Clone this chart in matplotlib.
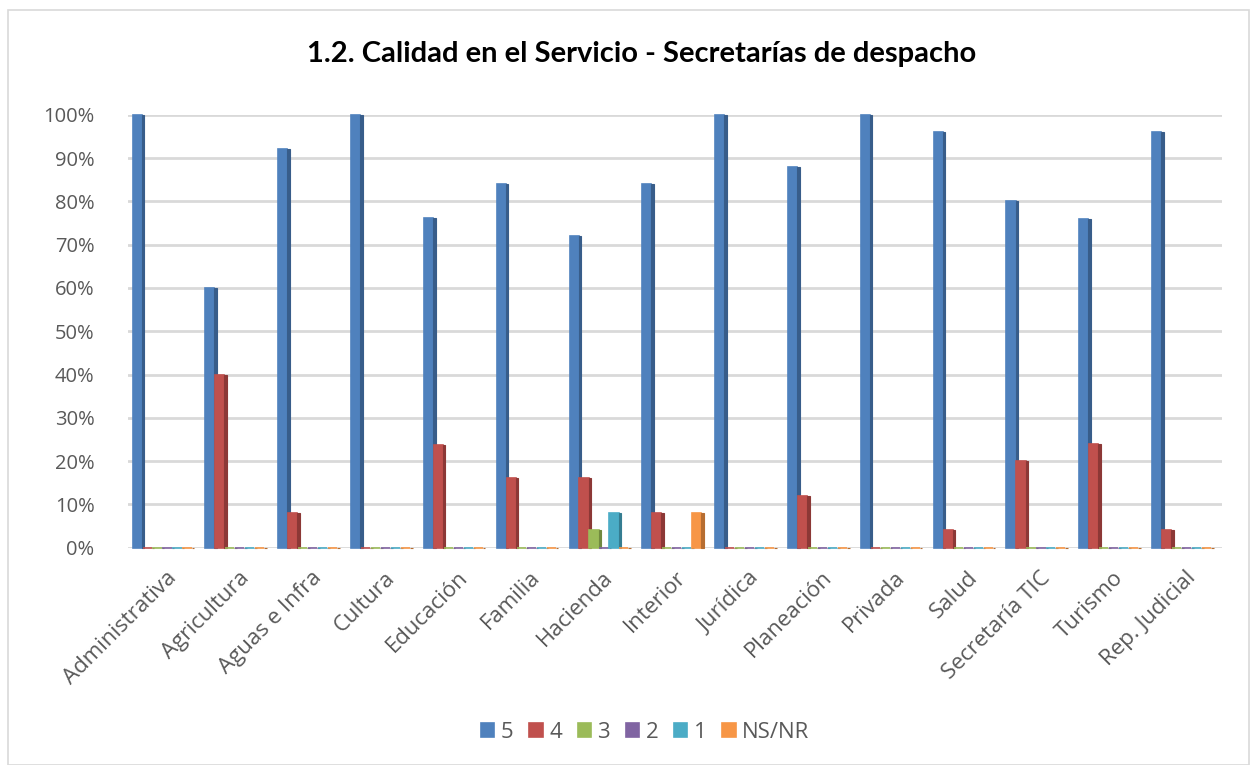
#%%imports
import matplotlib
matplotlib.use("Agg")
import matplotlib.pyplot as plt
from matplotlib.patches import Rectangle
import numpy as np

plt.rcParams["font.family"] = ["Open Sans", "DejaVu Sans"]

#%%data
categories = ["Administrativa", "Agricultura", "Aguas e Infra", "Cultura", "Educación",
              "Familia", "Hacienda", "Interior", "Jurídica", "Planeación", "Privada",
              "Salud", "Secretaría TIC", "Turismo", "Rep. Judicial"]
series_names = ["5", "4", "3", "2", "1", "NS/NR"]

s5 = [100, 60, 92, 100, 76.19, 84, 72, 84, 100, 88, 100, 96, 80, 76, 96]
s4 = [0, 40, 8, 0, 23.81, 16, 16, 8, 0, 12, 0, 4, 20, 24, 4]
s3 = [0, 0, 0, 0, 0, 0, 4, 0, 0, 0, 0, 0, 0, 0, 0]
s2 = [0, 0, 0, 0, 0, 0, 0, 0, 0, 0, 0, 0, 0, 0, 0]
s1 = [0, 0, 0, 0, 0, 0, 8, 0, 0, 0, 0, 0, 0, 0, 0]
nsnr = [0, 0, 0, 0, 0, 0, 0, 8, 0, 0, 0, 0, 0, 0, 0]

colors = ["#4F81BD", "#C0504D", "#9BBB59", "#8064A2", "#4BACC6", "#F79646"]
dark = ["#385D8A", "#8C3836", "#71893F", "#5C4776", "#357D91", "#B66D31"]

#%%plot
fig = plt.figure(figsize=(12.53, 7.65), dpi=100)
fig.patches.append(Rectangle((0.0065, 0.0), 0.99, 0.987, transform=fig.transFigure,
                             fill=False, edgecolor="#d9d9d9", linewidth=1.2))

ax = fig.add_axes([0.102, 0.284, 0.873, 0.566])

x = np.arange(len(categories))
w = 0.125
for i, (vals, c, d, name) in enumerate(zip([s5, s4, s3, s2, s1, nsnr], colors, dark, series_names)):
    pos = x - 0.5 + 0.045 + i * 0.137
    ax.bar(pos, vals, width=w, color=c, edgecolor=c, linewidth=1.2, align="edge",
           label=name, zorder=3, clip_on=False)
    # darker side face for the 3D look
    ax.bar(pos + w, vals, width=0.035, color=d, edgecolor=d, linewidth=0.8, align="edge",
           zorder=3, clip_on=False)

ax.set_xlim(-0.52, len(categories) - 0.5)
ax.set_ylim(0, 100)
ax.set_yticks(np.arange(0, 101, 10))
ax.set_yticklabels([f"{v}%" for v in range(0, 101, 10)], fontsize=14.5, color="#595959")
ax.yaxis.grid(True, color="#d9d9d9", linewidth=2, zorder=0)
ax.set_axisbelow(True)
ax.tick_params(axis="y", length=0, pad=24)
for s in ax.spines.values():
    s.set_visible(False)

ax.set_xticks(x)
ax.set_xticklabels(categories, rotation=45, ha="right", rotation_mode="anchor",
                   fontsize=16, color="#595959")
ax.tick_params(axis="x", length=0, pad=14)

fig.suptitle("1.2. Calidad en el Servicio - Secretarías de despacho", x=0.512, y=0.947,
             fontsize=21, fontweight="bold", color="black", family=["Lato", "DejaVu Sans"])

handles, labels = ax.get_legend_handles_labels()
fig.legend(handles, labels, loc="center", bbox_to_anchor=(0.515, 0.043), ncol=6,
           frameon=False, fontsize=16, handlelength=0.6, handleheight=0.6,
           handletextpad=0.3, columnspacing=0.7, labelcolor="#595959")

fig.savefig("out.png", dpi=100)
